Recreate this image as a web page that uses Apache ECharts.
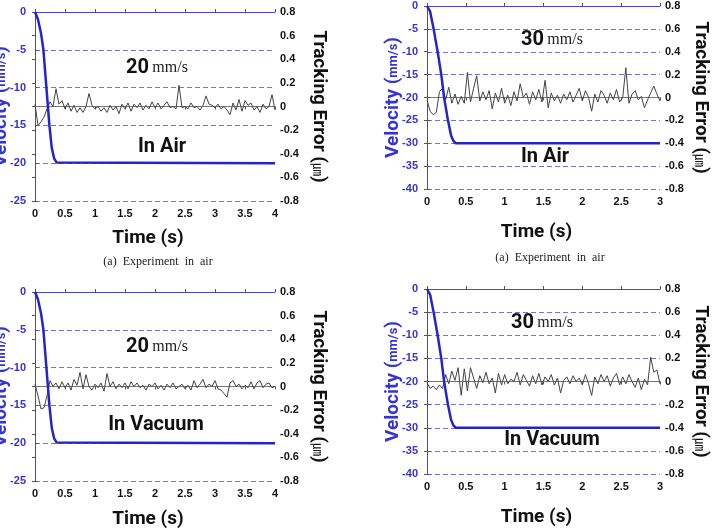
<!DOCTYPE html>
<html>
<head>
<meta charset="utf-8">
<script src="https://cdn.jsdelivr.net/npm/echarts@6.0.0/dist/echarts.min.js"></script>
<style>
  html, body { margin: 0; padding: 0; background: #fff; }
  #chart { width: 714px; height: 530px; }
</style>
</head>
<body>
<div id="chart"></div>
<script>
// velocity profiles (time s, velocity mm/s)
var velTime20 = [0, 0.05, 0.1, 0.14, 0.19, 0.24, 0.28, 0.32, 0.36, 0.38, 4];
var vel20 = [0, -1, -2.8, -5, -10, -15, -18, -19.4, -19.9, -20, -20];
var velTime30 = [0, 0.04, 0.085, 0.137, 0.184, 0.22, 0.27, 0.31, 0.34, 0.37, 3];
var vel30 = [0, -1.2, -5, -10, -15, -20, -25, -28.3, -29.5, -30, -30];

// tracking error (um), sampled every 0.05 s (20 mm/s) and 0.04 s (30 mm/s)
var err20Air = [0.02, -0.16, -0.13, -0.09, -0.02, 0.04, 0.0, 0.15, 0.02, 0.05,
  -0.02, 0.03, -0.04, 0.01, -0.05, -0.01, -0.05, 0.0, 0.11, 0.01,
  -0.02, 0.0, -0.04, -0.01, -0.05, 0.01, -0.03, 0.0, -0.06, 0.02,
  -0.02, 0.03, -0.04, 0.02, -0.01, 0.03, -0.03, 0.01, -0.02, 0.04,
  -0.01, 0.03, -0.02, 0.01, 0.04, -0.01, 0.0, -0.02, 0.18, -0.01,
  0.0, -0.02, 0.03, -0.01, 0.0, -0.03, 0.01, 0.09, 0.02, 0.01,
  -0.01, 0.02, -0.02, 0.0, -0.03, -0.07, 0.03, -0.03, 0.06, -0.04,
  0.05, 0.01, 0.03, -0.03, 0.0, -0.05, 0.02, -0.02, 0.0, 0.10,
  -0.03];
var err20Vac = [0.02, -0.08, -0.19, -0.18, -0.08, 0.05, 0.0, 0.03, -0.02, 0.04,
  -0.01, 0.03, -0.03, 0.06, 0.01, 0.12, -0.02, 0.1, 0.0, -0.03,
  0.02, -0.01, 0.03, -0.04, 0.11, 0.0, 0.04, -0.02, 0.02, -0.01,
  0.03, -0.02, 0.04, 0.0, 0.03, -0.01, 0.01, -0.03, 0.02, 0.0,
  0.03, -0.02, 0.01, -0.03, 0.02, -0.01, 0.03, -0.02, 0.0, 0.02,
  -0.02, 0.01, -0.03, 0.05, -0.01, 0.02, 0.06, -0.01, 0.02, 0.0,
  0.05, -0.02, -0.03, -0.06, -0.09, 0.03, 0.05, 0.0, 0.02, -0.02,
  0.01, -0.01, 0.04, -0.02, 0.03, 0.05, -0.01, 0.02, 0.03, -0.01,
  0.0];
var err30Air = [-0.02, -0.12, -0.15, -0.13, 0.05, 0.08, -0.02, 0.09, -0.05, 0.03,
  -0.06, 0.01, -0.05, 0.22, -0.04, 0.08, 0.19, -0.03, 0.05, -0.02,
  0.06, -0.1, 0.04, -0.04, 0.08, -0.05, 0.02, -0.07, 0.05, -0.03,
  0.12, 0.0, 0.04, -0.06, 0.05, -0.02, 0.07, -0.04, 0.15, -0.09,
  0.04, -0.03, 0.02, -0.05, 0.03, -0.02, 0.05, -0.04, 0.02, 0.08,
  -0.03, 0.06, 0.0, -0.12, 0.03, -0.04, 0.06, 0.02, -0.05, 0.04,
  -0.02, 0.07, -0.04, 0.0, 0.26, -0.05, 0.03, 0.06, -0.02, 0.01,
  -0.09, -0.02, 0.04, 0.10, 0.03, -0.03];
var err30Vac = [-0.01, -0.06, -0.04, -0.07, -0.03, -0.06, 0.06, -0.02, 0.09, 0.01,
  0.12, -0.12, 0.11, -0.08, 0.12, 0.03, -0.06, 0.05, -0.01, 0.08,
  -0.02, 0.03, -0.1, 0.07, -0.03, 0.06, -0.02, 0.02, 0.0, 0.08,
  -0.03, 0.06, 0.01, -0.04, 0.05, -0.02, 0.07, -0.03, 0.04, 0.0,
  0.06, -0.03, 0.03, -0.1, 0.01, 0.04, -0.02, 0.05, 0.0, 0.03,
  -0.03, 0.06, -0.02, -0.12, 0.04, -0.02, 0.06, 0.0, 0.05, -0.04,
  0.03, 0.07, -0.03, 0.04, -0.02, 0.06, 0.0, -0.05, 0.03, -0.07,
  0.02, -0.03, 0.21, 0.08, 0.1, -0.02];

var speedLabels = ['20', '30', '20', '30'];
var envLabels = ['In Air', 'In Air', 'In Vacuum', 'In Vacuum'];

var narrow = "Roboto, 'Liberation Sans', sans-serif";
var blue = '#3434d4';

var panels = [
  { left: 35, top: 12, width: 240, height: 189, tMax: 4, vMin: -25, step: 0.05, err: err20Air, vt: velTime20, v: vel20,
    nameGap: 28, rightGap: 34, speedPos: [157, 68], envPos: [162, 147], caption: [158, 262] },
  { left: 427, top: 6, width: 233, height: 183, tMax: 3, vMin: -40, step: 0.04, err: err30Air, vt: velTime30, v: vel30,
    nameGap: 34, rightGap: 31, speedPos: [552, 40], envPos: [545, 157], caption: [550, 258] },
  { left: 35, top: 292, width: 240, height: 189, tMax: 4, vMin: -25, step: 0.05, err: err20Vac, vt: velTime20, v: vel20,
    nameGap: 29, rightGap: 34, speedPos: [157, 347], envPos: [156, 425], caption: null },
  { left: 427, top: 289, width: 233, height: 185, tMax: 3, vMin: -40, step: 0.04, err: err30Vac, vt: velTime30, v: vel30,
    nameGap: 34, rightGap: 31, speedPos: [542, 323], envPos: [552, 440], caption: null }
];

var chartDom = document.getElementById('chart');
var myChart = echarts.init(chartDom);
var option;

var grids = [], xAxes = [], yAxes = [], series = [], graphics = [];

panels.forEach(function (p, i) {
    grids.push({ left: p.left, top: p.top, width: p.width, height: p.height, containLabel: false, outerBoundsMode: 'none' });

    // bottom time axis
    xAxes.push({
        type: 'value', gridIndex: i, position: 'bottom',
        min: 0, max: p.tMax, interval: 0.5,
        axisLine: { show: true, lineStyle: { color: '#4646d8', width: 1 } },
        axisTick: { show: true, inside: true, length: 3, lineStyle: { color: '#555' } },
        axisLabel: { color: '#111', fontWeight: 'bold', fontSize: 11, margin: 7, fontFamily: 'Liberation Sans' },
        splitLine: { show: false },
        name: 'Time (s)', nameLocation: 'middle', nameGap: p.nameGap,
        nameTextStyle: { fontFamily: narrow, fontWeight: 'bold', fontSize: 19, color: '#111', padding: [0, 14, 0, 0] }
    });
    yAxes.push({
        type: 'value', gridIndex: i, position: 'left',
        min: p.vMin, max: 0, interval: 5,
        axisLine: { show: true, lineStyle: { color: '#4646d8', width: 1 } },
        axisTick: { show: true, inside: true, length: 3, lineStyle: { color: '#4646d8' } },
        axisLabel: { color: blue, fontWeight: 'bold', fontSize: 11, margin: 9, fontFamily: 'Liberation Sans' },
        splitLine: { show: true, lineStyle: { type: [5, 3], color: '#7272e2', width: 1 } },
        name: '{a|Velocity }{b|(}{c|mm/s}{b|)}', nameLocation: 'middle', nameGap: 24,
        nameMoveOverlap: false,
        nameTextStyle: {
            rich: {
                a: { fontFamily: narrow, fontWeight: 'bold', fontSize: 19, color: blue },
                b: { fontFamily: narrow, fontWeight: 'bold', fontSize: 19, color: blue },
                c: { fontFamily: narrow, fontWeight: 'bold', fontSize: 13, color: blue }
            }
        }
    });
});

// top axes (frame) and right axes
panels.forEach(function (p, i) {
    xAxes.push({
        type: 'value', gridIndex: i, position: 'top',
        min: 0, max: p.tMax, interval: 0.5,
        axisLine: { show: true, lineStyle: { color: '#777', width: 1 } },
        axisTick: { show: true, inside: true, length: 3, lineStyle: { color: '#555' } },
        axisLabel: { show: false },
        splitLine: { show: false }
    });
    yAxes.push({
        type: 'value', gridIndex: i, position: 'right',
        min: -0.8, max: 0.8, interval: 0.2,
        axisLine: { show: true, lineStyle: { color: '#555', width: 1 } },
        axisTick: { show: true, inside: true, length: 3, lineStyle: { color: '#555' } },
        axisLabel: {
            color: '#111', fontWeight: 'bold', fontSize: 11, margin: 5, fontFamily: 'Liberation Sans',
            formatter: function (value) {
                var r = Math.round(value * 10) / 10;
                return r === 0 ? '0' : r.toFixed(1);
            }
        },
        splitLine: { show: false },
        name: '{a|Tracking Error (}{c|㎛}{a|)}', nameLocation: 'middle', nameRotate: -90, nameGap: p.rightGap,
        nameTextStyle: {
            rich: {
                a: { fontFamily: narrow, fontWeight: 'bold', fontSize: 19, color: '#111' },
                c: { fontFamily: "'Noto Sans CJK KR', sans-serif", fontSize: 13, color: '#111' }
            }
        }
    });
});

panels.forEach(function (p, i) {
    var errData = p.err.map(function (e, k) {
        return [Math.round(k * p.step * 100) / 100, e];
    });
    var velData = p.vt.map(function (t, k) {
        return [t, p.v[k]];
    });
    series.push({
        type: 'line', xAxisIndex: i, yAxisIndex: i + 4,
        data: errData, showSymbol: false, silent: true,
        lineStyle: { color: '#444', width: 1 }
    });
    series.push({
        type: 'line', xAxisIndex: i, yAxisIndex: i,
        data: velData, showSymbol: false, silent: true,
        lineStyle: { color: '#2424cc', width: 2.5 }, z: 3
    });

    graphics.push({
        type: 'text', x: p.speedPos[0], y: p.speedPos[1],
        style: {
            text: '{n|' + speedLabels[i] + '} {u|mm/s}',
            align: 'center', verticalAlign: 'middle',
            rich: {
                n: { fontFamily: narrow, fontWeight: 'bold', fontSize: 20, fill: '#111' },
                u: { fontFamily: "'Liberation Serif', serif", fontSize: 16, fill: '#222' }
            }
        }
    });
    graphics.push({
        type: 'text', x: p.envPos[0], y: p.envPos[1],
        style: {
            text: envLabels[i], align: 'center', verticalAlign: 'middle',
            fontFamily: narrow, fontWeight: 'bold', fontSize: 20, fill: '#111'
        }
    });
    if (p.caption) {
        graphics.push({
            type: 'text', x: p.caption[0], y: p.caption[1],
            style: {
                text: '(a)  Experiment  in  air', align: 'center', verticalAlign: 'middle',
                fontFamily: "'Liberation Serif', serif", fontSize: 12, fill: '#222'
            }
        });
    }
});

option = {
    animation: false,
    backgroundColor: '#fff',
    grid: grids,
    xAxis: xAxes,
    yAxis: yAxes,
    series: series,
    graphic: graphics
};

option && myChart.setOption(option);
</script>
</body>
</html>
